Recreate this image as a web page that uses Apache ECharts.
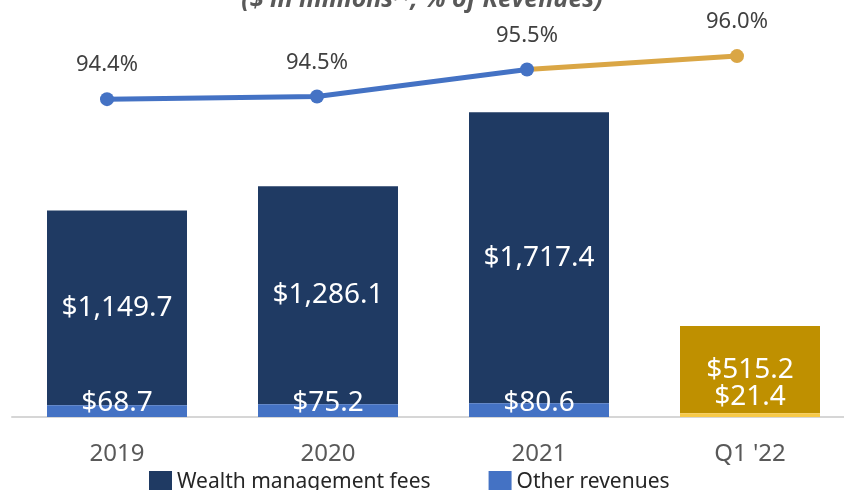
<!DOCTYPE html>
<html>
<head>
<meta charset="utf-8">
<script src="https://cdn.jsdelivr.net/npm/echarts@6/dist/echarts.min.js"></script>
<style>
  html, body { margin: 0; padding: 0; background: #fff; }
  #chart { width: 844px; height: 490px; }
</style>
</head>
<body>
<div id="chart"></div>
<script>
// revenue by period ($ in millions)
const categories = ['2019', '2020', '2021', "Q1 '22"]
const wealthFees = [1149.7, 1286.1, 1717.4, 515.2]
const otherRevenues = [68.7, 75.2, 80.6, 21.4]
// wealth management fees as % of revenues
const pctRevenues = [94.4, 94.5, 95.5, 96.0]

const FONT = 'Noto Sans'
const NAVY = '#1F3A63'
const BLUE = '#4472C4'
const GOLD = '#BF9000'
const LIGHT_GOLD = '#F7C948'
const LINE_GOLD = '#DAA645'

const money = v => '$' + v.toLocaleString('en-US', { minimumFractionDigits: 1, maximumFractionDigits: 1 })

const lastIdx = categories.length - 1

const otherData = otherRevenues.map((v, i) => i === lastIdx
  ? { value: v, itemStyle: { color: LIGHT_GOLD }, label: { offset: [0, -6] } }
  : v)
const wealthData = wealthFees.map((v, i) => i === lastIdx
  ? { value: v, itemStyle: { color: GOLD } }
  : v)

// blue part of the line up to 2021, gold part from 2021 to Q1 '22
const blueLine = pctRevenues.map((v, i) => i < lastIdx ? v : null)
const goldLine = pctRevenues.map((v, i) => {
  if (i < lastIdx - 1) return null
  if (i === lastIdx - 1) return { value: v, symbol: 'none', label: { show: false } }
  return v
})

const pctLabel = {
  show: true,
  position: 'top',
  distance: 16,
  fontFamily: FONT,
  fontSize: 22,
  color: '#404040',
  formatter: p => p.value.toFixed(1) + '%'
}

const chart = echarts.init(document.getElementById('chart'))

chart.setOption({
  animation: false,
  textStyle: { fontFamily: FONT },
  title: {
    text: '($ in millions{sup|(1)}, % of Revenues)',
    left: 'center',
    top: -18,
    textStyle: {
      fontFamily: FONT,
      fontSize: 25,
      fontWeight: 'bold',
      fontStyle: 'italic',
      color: '#595959',
      rich: {
        sup: { fontSize: 14, fontWeight: 'bold', fontStyle: 'italic', color: '#595959', verticalAlign: 'top', padding: [0, 0, 12, 0] }
      }
    }
  },
  legend: {
    data: ['Wealth management fees', 'Other revenues'],
    left: 144,
    top: 466,
    icon: 'rect',
    itemWidth: 23,
    itemHeight: 22,
    itemGap: 58,
    textStyle: { fontFamily: FONT, fontSize: 21, color: '#262626' }
  },
  grid: [
    // bars: first and last category centres
    { left: 117, right: 94, top: 44, bottom: 73 },
    // percentage line
    { left: 107, right: 107, top: 44, bottom: 73 },
    // baseline across the whole width
    { left: 12, right: 0, top: 44, bottom: 73 }
  ],
  xAxis: [
    {
      type: 'category',
      gridIndex: 0,
      data: categories,
      boundaryGap: false,
      axisTick: { show: false },
      axisLine: { show: false },
      axisLabel: { fontFamily: FONT, fontSize: 24, color: '#595959', margin: 25 }
    },
    {
      type: 'category',
      gridIndex: 1,
      data: categories,
      boundaryGap: false,
      show: false
    },
    {
      type: 'category',
      gridIndex: 2,
      data: categories,
      axisTick: { show: false },
      axisLabel: { show: false },
      axisLine: { lineStyle: { color: '#D6D6D6', width: 2 } }
    }
  ],
  yAxis: [
    { type: 'value', gridIndex: 0, min: 0, max: 2200, show: false, splitLine: { show: false } },
    { type: 'value', gridIndex: 1, min: 82.58, max: 96.45, show: false, splitLine: { show: false } },
    { type: 'value', gridIndex: 2, show: false, splitLine: { show: false } }
  ],
  series: [
    {
      name: 'Other revenues',
      type: 'bar',
      stack: 'rev',
      barWidth: 140,
      clip: false,
      data: otherData,
      itemStyle: { color: BLUE },
      label: {
        show: true,
        position: 'insideBottom',
        distance: 0,
        fontFamily: FONT,
        fontSize: 28,
        lineHeight: 28,
        color: '#fff',
        formatter: p => money(p.value)
      },
      z: 3
    },
    {
      name: 'Wealth management fees',
      type: 'bar',
      stack: 'rev',
      barWidth: 140,
      clip: false,
      data: wealthData,
      itemStyle: { color: NAVY },
      label: {
        show: true,
        position: 'inside',
        fontFamily: FONT,
        fontSize: 28,
        color: '#fff',
        formatter: p => money(p.value)
      },
      z: 2
    },
    {
      name: 'pct gold',
      type: 'line',
      xAxisIndex: 1,
      yAxisIndex: 1,
      data: goldLine,
      symbol: 'circle',
      symbolSize: 14,
      lineStyle: { color: LINE_GOLD, width: 5 },
      itemStyle: { color: LINE_GOLD },
      label: pctLabel,
      z: 4
    },
    {
      name: 'pct blue',
      type: 'line',
      xAxisIndex: 1,
      yAxisIndex: 1,
      data: blueLine,
      symbol: 'circle',
      symbolSize: 14,
      lineStyle: { color: BLUE, width: 5 },
      itemStyle: { color: BLUE },
      label: pctLabel,
      z: 5
    }
  ]
})
</script>
</body>
</html>
